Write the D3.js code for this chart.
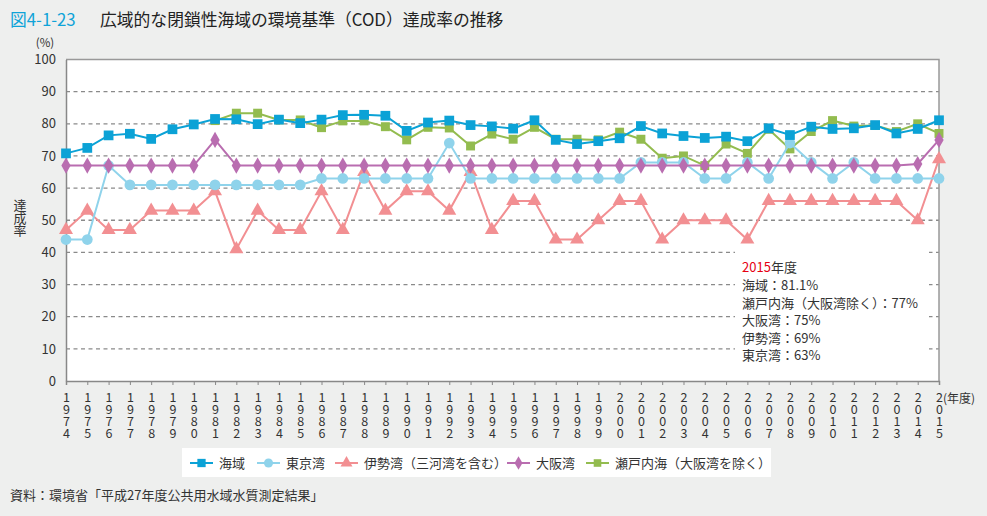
<!DOCTYPE html>
<html><head><meta charset="utf-8">
<script src="https://cdn.jsdelivr.net/npm/d3@7/dist/d3.min.js"></script>
<style>
html,body{margin:0;padding:0;background:#eeefee;}
svg{display:block;font-family:"Noto Sans CJK JP","Noto Sans",sans-serif;}
</style></head>
<body><svg id="c" width="987" height="516"></svg>
<script>
const years = d3.range(1974, 2016);
const yTicks = [0,10,20,30,40,50,60,70,80,90,100];
const kaiiki = [70.8,72.5,76.4,76.9,75.3,78.3,79.8,81.5,81.4,79.9,81.3,80.2,81.3,82.7,82.8,82.5,77.8,80.4,81.0,79.6,79.2,78.5,81.1,75.0,73.7,74.6,75.5,79.3,77.0,76.2,75.6,76.0,74.6,78.6,76.5,79.1,78.4,78.6,79.6,77.0,78.4,81.1];
const tokyo = [44,44,67,61,61,61,61,61,61,61,61,61,63,63,63,63,63,63,74,63,63,63,63,63,63,63,63,68,68,68,63,63,68,63,74,68,63,68,63,63,63,63];
const ise = [47,53,47,47,53,53,53,59,41,53,47,47,59,47,65,53,59,59,53,65,47,56,56,44,44,50,56,56,44,50,50,50,44,56,56,56,56,56,56,56,50,69];
const osaka = [67,67,67,67,67,67,67,75,67,67,67,67,67,67,67,67,67,67,67,67,67,67,67,67,67,67,67,67,67,67,67,67,67,67,67,67,67,67,67,67,67.5,75];
const setoYears = d3.range(1981, 2016);
const seto = [81,83.3,83.3,81.2,81.2,78.8,80.9,80.9,79.1,75.0,78.9,78.7,73.1,76.8,75.2,78.9,75.2,75.2,75.0,77.4,75.2,69.3,70.0,67.0,73.7,70.8,78.3,72.2,77.6,81.0,79.3,79.5,77.6,80.0,77];
const seriesNames = ["海域","東京湾","伊勢湾（三河湾を含む）","大阪湾","瀬戸内海（大阪湾を除く）"];
const noteLines = ["海域：81.1%","瀬戸内海（大阪湾除く）：77%","大阪湾：75%","伊勢湾：69%","東京湾：63%"];

const svg = d3.select("#c");
const x = d3.scaleLinear().domain([1974,2015]).range([66,939]);
const y = d3.scaleLinear().domain([0,100]).range([381,59.5]);

// title
const t = svg.append("text").attr("x",10).attr("y",26).attr("font-size",16.8);
t.append("tspan").attr("fill","#0fa3d8").text("図4-1-23");
t.append("tspan").attr("x",100).attr("fill","#222").text("広域的な閉鎖性海域の環境基準（COD）達成率の推移");

// plot bg
svg.append("rect").attr("x",66).attr("y",y(100)).attr("width",939-66).attr("height",y(0)-y(100)).attr("fill","#fff");

// gridlines
svg.append("g").selectAll("line").data(yTicks.filter(d=>d>0 && d<100)).join("line")
  .attr("x1",66).attr("x2",939).attr("y1",d=>y(d)).attr("y2",d=>y(d))
  .attr("stroke","#8a8a8a").attr("stroke-width",1.3).attr("stroke-dasharray","4,3.5");

// border top/right
svg.append("path").attr("d",`M66,${y(100)}H939V${y(0)}`).attr("fill","none").attr("stroke","#999").attr("stroke-width",1.5);

// y axis
const ya = svg.append("g").attr("transform","translate(66,0)")
  .call(d3.axisLeft(y).tickValues(yTicks).tickSize(0).tickPadding(10));
ya.select(".domain").attr("stroke","#888").attr("stroke-width",1.5);
ya.selectAll("text").attr("font-size",13).attr("fill","#333").attr("font-family","'Noto Sans CJK JP',sans-serif");

// x axis
const xa = svg.append("g").attr("transform",`translate(0,${y(0)})`)
  .call(d3.axisBottom(x).tickValues(years).tickSize(4).tickFormat(""));
xa.select(".domain").attr("stroke","#888").attr("stroke-width",1.5);
xa.selectAll(".tick line").attr("stroke","#888");
xa.selectAll(".tick").each(function(d){
  const g = d3.select(this);
  String(d).split("").forEach((ch,i)=>{
    g.append("text").attr("y",21+i*12).attr("text-anchor","middle").attr("font-size",12.5)
     .attr("fill","#333").attr("font-family","'Noto Sans CJK JP',sans-serif").text(ch);
  });
});
svg.append("text").attr("x",943).attr("y",403).attr("font-size",12).attr("fill","#333").text("(年度)");

// axis labels
svg.append("text").attr("x",45).attr("y",47).attr("font-size",11.5).attr("text-anchor","middle").attr("fill","#333").text("(%)");
const yl = svg.append("text").attr("x",20).attr("font-size",13).attr("text-anchor","middle").attr("fill","#333");
["達","成","率"].forEach((c,i)=> yl.append("tspan").attr("x",20).attr("y",210+i*12.5).text(c));

// annotation white box
svg.append("rect").attr("x",735).attr("y",251).attr("width",194).attr("height",118).attr("fill","#fff");
const ann = svg.append("g").attr("font-size",13).attr("fill","#333");
const a0 = ann.append("text").attr("x",742).attr("y",272);
a0.append("tspan").attr("fill","#e60012").text("2015");
a0.append("tspan").text("年度");
noteLines.forEach((s,i)=> ann.append("text").attr("x",742).attr("y",290+i*17.5).text(s));

// series
const cols = ["#0ba2d6","#8fd3eb","#f28f92","#b96db0","#93bc4f"];
const sq = d3.symbol().type(d3.symbolSquare).size(95)();
const sqL = d3.symbol().type(d3.symbolSquare).size(80)();
const circ = d3.symbol().type(d3.symbolCircle).size(90)();
const tri = d3.symbol().type(d3.symbolTriangle).size(85)();
const dia = d3.symbol().type(d3.symbolDiamond).size(75)();
const line = d3.line().x(d=>x(d[0])).y(d=>y(d[1]));
const series = [
  {data: setoYears.map((yr,i)=>[yr,seto[i]]), c:cols[4], s:sqL},
  {data: years.map((yr,i)=>[yr,ise[i]]), c:cols[2], s:tri},
  {data: years.map((yr,i)=>[yr,tokyo[i]]), c:cols[1], s:circ},
  {data: years.map((yr,i)=>[yr,osaka[i]]), c:cols[3], s:dia},
  {data: years.map((yr,i)=>[yr,kaiiki[i]]), c:cols[0], s:sq},
];
series.forEach(sr=>{
  svg.append("path").attr("d",line(sr.data)).attr("fill","none").attr("stroke",sr.c).attr("stroke-width",2);
  svg.append("g").selectAll("path").data(sr.data).join("path")
    .attr("d",sr.s).attr("transform",d=>`translate(${x(d[0])},${y(d[1])})`).attr("fill",sr.c);
});

// legend
svg.append("rect").attr("x",182).attr("y",448).attr("width",589).attr("height",29).attr("fill","#fff");
const legX = [190,257,335,507,586];
const legSym = [sq,circ,tri,dia,sqL];
const lg = svg.append("g");
seriesNames.forEach((n,i)=>{
  const g = lg.append("g").attr("transform",`translate(${legX[i]},463)`);
  g.append("line").attr("x1",0).attr("x2",23).attr("stroke",cols[i]).attr("stroke-width",2);
  g.append("path").attr("d",legSym[i]).attr("transform","translate(11.5,0) scale(0.85)").attr("fill",cols[i]);
  g.append("text").attr("x",29).attr("y",5).attr("font-size",13).attr("fill","#333").text(n);
});

// source
svg.append("text").attr("x",10).attr("y",500).attr("font-size",13).attr("fill","#333").text("資料：環境省「平成27年度公共用水域水質測定結果」");
</script></body></html>
